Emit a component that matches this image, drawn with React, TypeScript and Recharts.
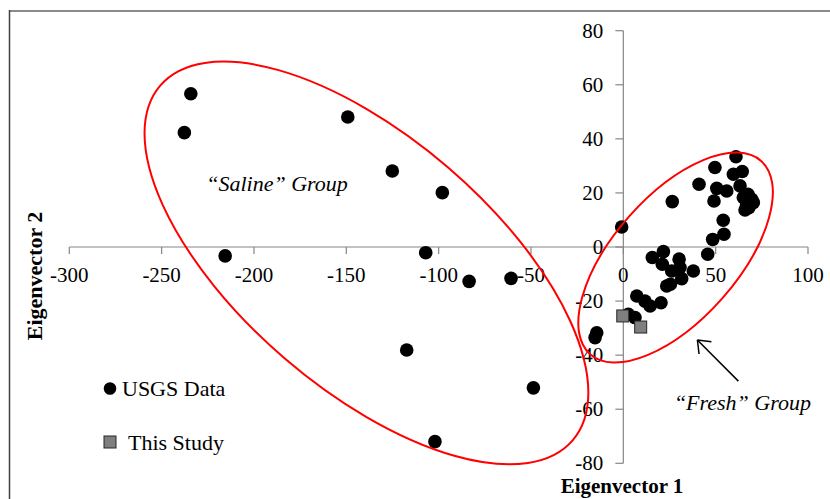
import React from 'react';
import {
  ScatterChart, Scatter, XAxis, YAxis, ReferenceLine, ReferenceDot, Legend,
} from 'recharts';

// USGS produced-water samples (Eigenvector 1, Eigenvector 2)
const usgsX = [
  -234.2, -237.7, -149.2, -125.1, -98.0, -215.6, -107.0, -83.5, -60.8, -117.3, -48.7, -102.0,
  61.0, 49.6, 64.4, 59.6, 41.0, 50.6, 56.0, 63.2, 49.1, 26.5, 65.0, 69.5, 66.8, 65.9, 70.4, 67.5, 68.0,
  -0.9, 54.1, 54.5, 48.4, 45.7, 15.7, 21.7, 21.1, 30.2, 30.7, 26.2, 37.9, 31.6, 23.5, 25.5,
  7.3, 11.7, 14.5, 20.4, 2.7, 6.3, -14.4, -15.3,
];
const usgsY = [
  56.7, 42.3, 48.1, 28.1, 20.1, -3.3, -2.1, -12.7, -11.6, -38.1, -52.1, -72.0,
  33.4, 29.4, 27.9, 26.9, 23.2, 21.7, 20.7, 22.6, 17.0, 16.8, 18.3, 17.6, 15.8, 13.7, 16.4, 19.5, 14.5,
  7.4, 9.9, 4.7, 2.8, -2.7, -3.9, -1.7, -6.4, -4.5, -7.6, -8.9, -8.9, -11.7, -14.4, -13.8,
  -18.1, -20.0, -21.8, -20.6, -24.9, -26.1, -31.7, -33.5,
];

// This study
const studyX = [-0.3, 9.4];
const studyY = [-25.5, -29.6];

const xTicks = [-300, -250, -200, -150, -100, -50, 0, 50, 100];
const yTicks = [-80, -60, -40, -20, 0, 20, 40, 60, 80];

const usgsData = usgsX.map((x, i) => ({ x, y: usgsY[i] }));
const studyData = studyX.map((x, i) => ({ x, y: studyY[i] }));

const AXIS = '#868686';
const FONT = '"Liberation Serif", "Times New Roman", serif';

const xTickShape = (v: number) => (p: any) => (
  <g>
    <line x1={p.cx} y1={p.cy} x2={p.cx} y2={p.cy + 7} stroke={AXIS} strokeWidth={1.2} />
    <text x={p.cx} y={p.cy + 35} textAnchor="middle" fontFamily={FONT} fontSize={21} fill="#000">
      {v}
    </text>
  </g>
);

const yTickShape = (v: number) => (p: any) => (
  <g>
    <line x1={p.cx - 8} y1={p.cy} x2={p.cx} y2={p.cy} stroke={AXIS} strokeWidth={1.2} />
    <text x={p.cx - 20} y={p.cy + 7} textAnchor="end" fontFamily={FONT} fontSize={21} fill="#000">
      {v}
    </text>
  </g>
);

const ellipseShape = (rx: number, ry: number, angle: number) => (p: any) => (
  <ellipse
    cx={p.cx}
    cy={p.cy}
    rx={rx}
    ry={ry}
    transform={`rotate(${angle} ${p.cx} ${p.cy})`}
    fill="none"
    stroke="#FF0000"
    strokeWidth={2}
  />
);

const groupLabel = (text: string) => (p: any) => (
  <text x={p.cx} y={p.cy} textAnchor="middle" fontFamily={FONT} fontStyle="italic" fontSize={22} fill="#000">
    {text}
  </text>
);

const arrowHead = (p: any) => (
  <g stroke="#000" strokeWidth={1.5} fill="none">
    <line x1={p.cx} y1={p.cy} x2={p.cx + 14} y2={p.cy + 1.7} />
    <line x1={p.cx} y1={p.cy} x2={p.cx + 1.7} y2={p.cy + 14} />
  </g>
);

const dotShape = (p: any) => <circle cx={p.cx} cy={p.cy} r={6.8} fill="#000" />;
const squareShape = (p: any) => (
  <rect x={p.cx - 6} y={p.cy - 6} width={12} height={12} fill="#7f7f7f" stroke="#262626" strokeWidth={1} />
);

const LegendBox = () => (
  <svg width={170} height={90} style={{ overflow: 'visible' }}>
    <circle cx={10} cy={18.5} r={6.3} fill="#000" />
    <text x={22} y={26} fontFamily={FONT} fontSize={22} fill="#000">USGS Data</text>
    <rect x={4} y={66} width={12} height={12} fill="#7f7f7f" stroke="#262626" strokeWidth={1} />
    <text x={28} y={79.5} fontFamily={FONT} fontSize={22} fill="#000">This Study</text>
  </svg>
);

export default function App() {
  return (
    <div style={{ position: 'absolute', left: 0, top: 0, width: 830, height: 499, background: '#fff', overflow: 'hidden' }}>
      <ScatterChart
        width={830}
        height={499}
        margin={{ top: 30.7, right: 22, bottom: 35.7, left: 69.3 }}
      >
        <XAxis type="number" dataKey="x" domain={[-300, 100]} ticks={xTicks} hide allowDataOverflow />
        <YAxis type="number" dataKey="y" domain={[-80, 80]} ticks={yTicks} hide allowDataOverflow />

        <ReferenceLine y={0} stroke={AXIS} strokeWidth={1.2} />
        <ReferenceLine x={0} stroke={AXIS} strokeWidth={1.2} />
        {xTicks.map((v) => (
          <ReferenceDot key={`xt${v}`} x={v} y={0} shape={xTickShape(v)} />
        ))}
        {yTicks.map((v) => (
          <ReferenceDot key={`yt${v}`} x={0} y={v} shape={yTickShape(v)} />
        ))}

        <Scatter name="USGS Data" data={usgsData} shape={dotShape} isAnimationActive={false} />
        <Scatter name="This Study" data={studyData} shape={squareShape} isAnimationActive={false} />

        <ReferenceDot x={-139.1} y={-5.9} shape={ellipseShape(272, 125.7, 40.7)} />
        <ReferenceDot x={28.3} y={-3.9} shape={ellipseShape(129, 62, -48.5)} />

        <ReferenceDot x={-187.5} y={20.7} shape={groupLabel('\u201CSaline\u201D Group')} />
        <ReferenceDot x={64.5} y={-60.3} shape={groupLabel('\u201CFresh\u201D Group')} />

        <ReferenceLine segment={[{ x: 62.3, y: -49.6 }, { x: 40.1, y: -34.4 }]} stroke="#000" strokeWidth={1.5} />
        <ReferenceDot x={40.1} y={-34.4} shape={arrowHead} />

        <Legend
          layout="horizontal"
          verticalAlign="middle"
          align="center"
          content={() => <LegendBox />}
          wrapperStyle={{ left: 100, top: 370, width: 170, height: 90 }}
        />
      </ScatterChart>

      <svg
        width={830}
        height={499}
        style={{ position: 'absolute', left: 0, top: 0, pointerEvents: 'none' }}
      >
        <line x1={9.5} y1={11} x2={830} y2={11} stroke="#8a8a8a" strokeWidth={2} />
        <line x1={9.5} y1={10} x2={9.5} y2={499} stroke="#404040" strokeWidth={1.5} />
        <text
          x={0}
          y={0}
          transform="translate(42 276) rotate(-90)"
          textAnchor="middle"
          fontFamily={FONT}
          fontWeight="bold"
          fontSize={22}
          fill="#000"
        >
          Eigenvector 2
        </text>
        <text x={622} y={493} textAnchor="middle" fontFamily={FONT} fontWeight="bold" fontSize={21} fill="#000">
          Eigenvector 1
        </text>
      </svg>
    </div>
  );
}
